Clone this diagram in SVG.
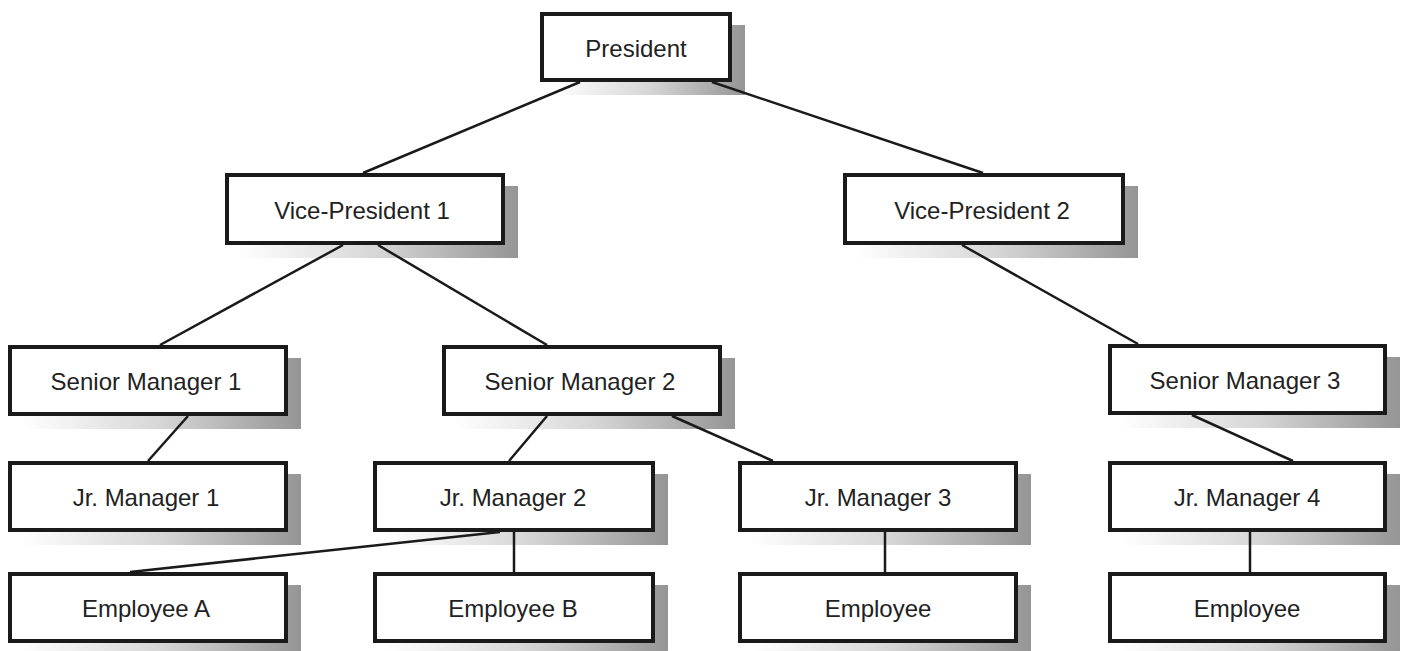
<svg xmlns="http://www.w3.org/2000/svg" width="1407" height="651" viewBox="0 0 1407 651">
<defs>
<linearGradient id="sh" x1="0" y1="0" x2="1" y2="0">
<stop offset="0" stop-color="#ffffff"/>
<stop offset="0.5" stop-color="#d6d6d6"/>
<stop offset="0.9" stop-color="#a2a2a2"/>
<stop offset="1" stop-color="#959595"/>
</linearGradient>
</defs>
<style>
.shadow{fill:url(#sh);stroke:none}
.box{fill:#ffffff;stroke:#1a1a1a;stroke-width:4}
.lbl{font-family:"Liberation Sans",Arial,sans-serif;font-size:24px;fill:#222222;text-anchor:middle}
.conn line{stroke:#1a1a1a;stroke-width:2.5;fill:none}
</style>
<rect x="0" y="0" width="1407" height="651" fill="#ffffff"/>

<g id="president">
<rect class="shadow" x="553" y="25" width="192" height="70"/>
<rect class="box" x="542" y="14" width="188" height="66"/>
<text class="lbl" x="636" y="57">President</text>
</g>
<g id="vp1">
<rect class="shadow" x="238" y="186" width="280" height="72"/>
<rect class="box" x="227" y="175" width="276" height="68"/>
<text class="lbl" x="362" y="219">Vice-President 1</text>
</g>
<g id="vp2">
<rect class="shadow" x="856" y="186" width="282" height="72"/>
<rect class="box" x="845" y="175" width="278" height="68"/>
<text class="lbl" x="982" y="219">Vice-President 2</text>
</g>
<g id="sm1">
<rect class="shadow" x="21" y="358" width="280" height="71"/>
<rect class="box" x="10" y="347" width="276" height="67"/>
<text class="lbl" x="146" y="390">Senior Manager 1</text>
</g>
<g id="sm2">
<rect class="shadow" x="455" y="358" width="280" height="71"/>
<rect class="box" x="444" y="347" width="276" height="67"/>
<text class="lbl" x="580" y="390">Senior Manager 2</text>
</g>
<g id="sm3">
<rect class="shadow" x="1121" y="357" width="279" height="71"/>
<rect class="box" x="1110" y="346" width="275" height="67"/>
<text class="lbl" x="1245" y="389">Senior Manager 3</text>
</g>
<g id="jr1">
<rect class="shadow" x="21" y="474" width="280" height="71"/>
<rect class="box" x="10" y="463" width="276" height="67"/>
<text class="lbl" x="146" y="506">Jr. Manager 1</text>
</g>
<g id="jr2">
<rect class="shadow" x="386" y="474" width="282" height="71"/>
<rect class="box" x="375" y="463" width="278" height="67"/>
<text class="lbl" x="513" y="506">Jr. Manager 2</text>
</g>
<g id="jr3">
<rect class="shadow" x="751" y="474" width="280" height="71"/>
<rect class="box" x="740" y="463" width="276" height="67"/>
<text class="lbl" x="878" y="506">Jr. Manager 3</text>
</g>
<g id="jr4">
<rect class="shadow" x="1121" y="474" width="279" height="71"/>
<rect class="box" x="1110" y="463" width="275" height="67"/>
<text class="lbl" x="1247" y="506">Jr. Manager 4</text>
</g>
<g id="empA">
<rect class="shadow" x="21" y="585" width="280" height="71"/>
<rect class="box" x="10" y="574" width="276" height="67"/>
<text class="lbl" x="146" y="617">Employee A</text>
</g>
<g id="empB">
<rect class="shadow" x="386" y="585" width="282" height="71"/>
<rect class="box" x="375" y="574" width="278" height="67"/>
<text class="lbl" x="513" y="617">Employee B</text>
</g>
<g id="emp3">
<rect class="shadow" x="751" y="585" width="280" height="71"/>
<rect class="box" x="740" y="574" width="276" height="67"/>
<text class="lbl" x="878" y="617">Employee</text>
</g>
<g id="emp4">
<rect class="shadow" x="1121" y="585" width="279" height="71"/>
<rect class="box" x="1110" y="574" width="275" height="67"/>
<text class="lbl" x="1247" y="617">Employee</text>
</g>

<g id="connectors" class="conn">
<line x1="580" y1="82" x2="363" y2="173"/>
<line x1="712" y1="82" x2="983" y2="173"/>
<line x1="343" y1="245" x2="160" y2="345"/>
<line x1="378" y1="245" x2="547" y2="345"/>
<line x1="962" y1="245" x2="1138" y2="344"/>
<line x1="188" y1="416" x2="148" y2="461"/>
<line x1="547" y1="416" x2="509" y2="461"/>
<line x1="672" y1="416" x2="773" y2="461"/>
<line x1="1192" y1="415" x2="1293" y2="461"/>
<line x1="500" y1="532" x2="130" y2="572"/>
<line x1="514" y1="532" x2="514" y2="572"/>
<line x1="885" y1="532" x2="885" y2="572"/>
<line x1="1250" y1="532" x2="1250" y2="572"/>
</g>
</svg>
